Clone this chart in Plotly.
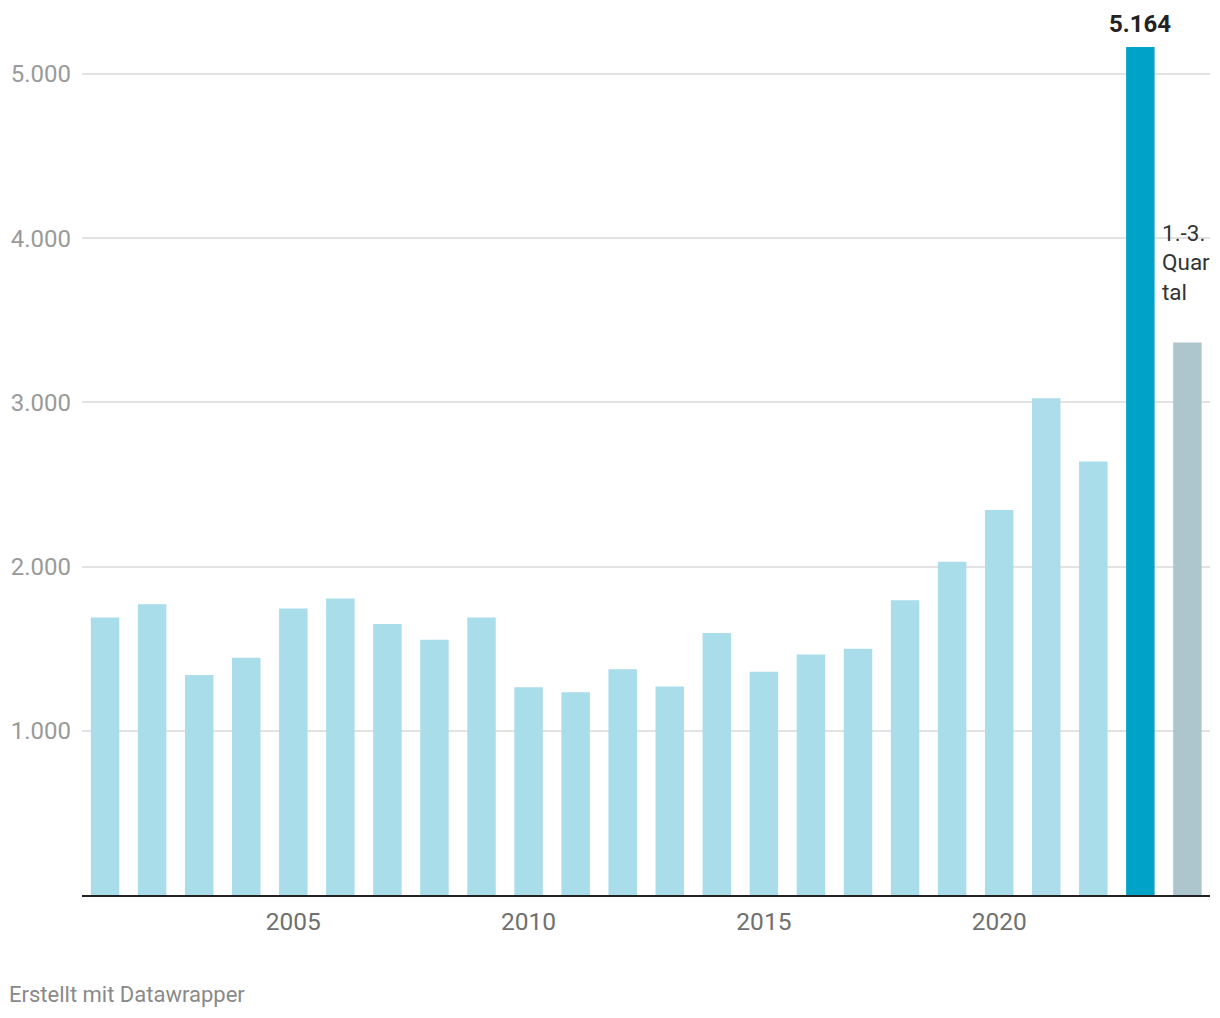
import plotly.graph_objects as go

years = list(range(2001, 2025))
values = [1690, 1770, 1340, 1445, 1745, 1805, 1650, 1555, 1690, 1265,
          1235, 1375, 1270, 1595, 1360, 1465, 1500, 1795, 2030, 2345,
          3025, 2640, 5164, 3365]
bar_colors = ["#a8dde9"] * 20 + ["#addcea", "#a8dde9", "#00a2c8", "#adc6ce"]

x_tickvals = [2005, 2010, 2015, 2020]
x_ticktext = ["2005", "2010", "2015", "2020"]
y_tickvals = [1000, 2000, 3000, 4000, 5000]
y_ticktext = ["1.000", "2.000", "3.000", "4.000", "5.000"]

highlight_year = 2023
highlight_label = "5.164"
note_year = 2024
note_text = "1.-3.<br>Quar<br>tal"
note_value = 4000
footer = "Erstellt mit Datawrapper"

W, H = 1204, 1002
L, T, R, B = 74, 39, 2, 115
pw, ph = W - L - R, H - T - B

fig = go.Figure()
fig.add_trace(go.Bar(
    x=years, y=values, marker=dict(color=bar_colors, line=dict(width=0)),
    width=0.605, hoverinfo="x+y",
))

fig.update_layout(
    width=W, height=H,
    margin=dict(l=L, r=R, t=T, b=B),
    paper_bgcolor="white", plot_bgcolor="white",
    font=dict(family="Roboto", size=24, color="#333333"),
    showlegend=False,
    xaxis=dict(
        range=[2000.51, 2024.48],
        tickvals=x_tickvals, ticktext=x_ticktext,
        tickfont=dict(size=24.5, color="#707070"),
        showgrid=False, zeroline=False,
        showline=True, linecolor="#222222", linewidth=2,
        ticks="", ticklabelstandoff=4,
    ),
    yaxis=dict(
        range=[0, 5164],
        tickvals=y_tickvals, ticktext=y_ticktext,
        tickfont=dict(size=24, color="#9a9a9a"),
        showgrid=True, gridcolor="#e3e3e3", gridwidth=1.5,
        zeroline=False, ticks="", ticklabelstandoff=10,
    ),
    annotations=[
        dict(x=highlight_year, y=values[years.index(highlight_year)], xref="x", yref="y",
             text="<b>" + highlight_label + "</b>", showarrow=False,
             yanchor="bottom", yshift=7, font=dict(size=24, color="#222222")),
        dict(x=note_year, y=note_value, xref="x", yref="y",
             text=note_text, showarrow=False, align="left",
             xanchor="left", yanchor="middle", xshift=-27, yshift=-24,
             font=dict(size=22.5, color="#333333")),
        dict(x=(-1 - L) / pw, y=(T + ph - 986) / ph, xref="paper", yref="paper",
             text=footer, showarrow=False,
             xanchor="left", yanchor="middle", font=dict(size=22, color="#8a8a8a")),
    ],
)

fig.write_html("out.html")
